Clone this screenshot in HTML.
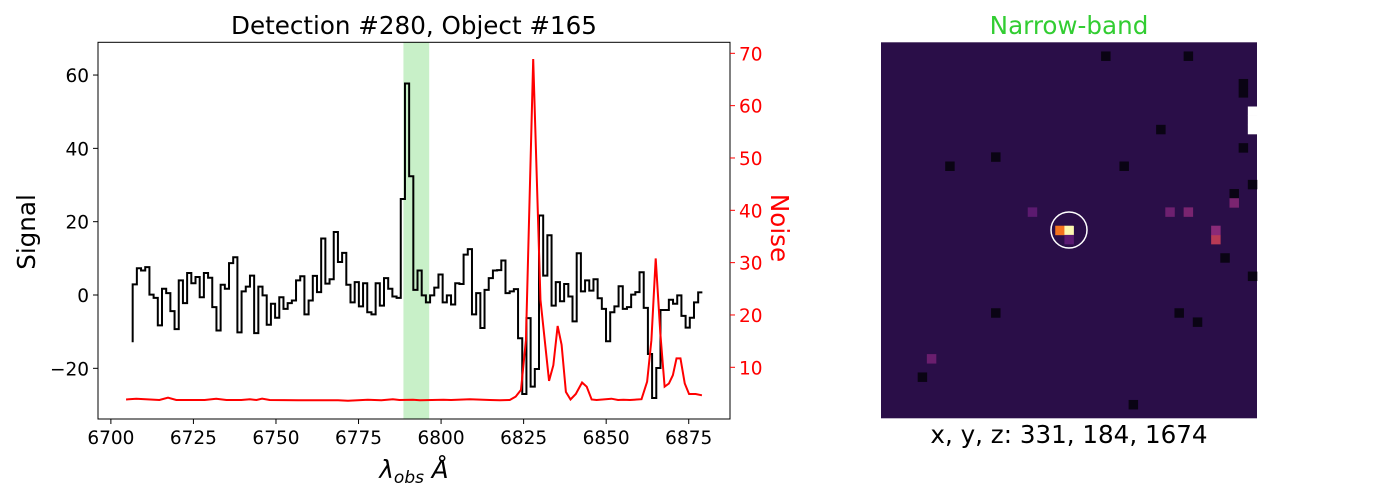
<!DOCTYPE html>
<html><head><meta charset="utf-8"><style>
html,body{margin:0;padding:0;background:#fff;}
svg{display:block;font-family:"DejaVu Sans","Liberation Sans",sans-serif;}
</style></head><body>
<svg id="chart" width="1400" height="500" viewBox="0 0 1400 500"></svg>
<script>
const signalStart = 6706.6;
const signalStep = 1.2686;
const signalValues = [-12.9,2.9,7.3,6.7,7.6,0.1,-0.8,-8.3,1.7,0.5,-4.4,-9.3,4.0,-2.2,6.0,3.2,4.9,-0.6,6.0,4.7,-3.3,-9.7,2.8,1.7,8.7,10.3,-10.2,1.0,2.3,5.3,-10.4,2.3,-0.1,-8.1,-2.4,-6.2,-0.6,-3.8,-2.2,-1.5,4.0,5.1,-5.3,-1.5,5.2,0.8,15.4,3.1,4.3,17.2,9.0,11.5,2.8,-2.0,3.5,-3.1,3.2,-4.7,-5.3,3.2,-2.9,4.6,1.7,-0.4,-0.8,26.2,57.7,32.4,
1.4,6.7,-0.1,-2.0,-0.1,2.0,5.6,-2.0,-0.1,-2.6,3.2,3.0,11.0,12.5,-5.3,0.5,-9.0,1.4,4.6,6.7,6.8,9.4,0.5,1.0,1.6,-11.8,-27.0,-6.3,-25.0,-20.2,21.7,5.3,16.3,-2.9,3.5,-1.7,3.0,-0.4,-7.2,11.4,1.0,4.0,1.2,4.3,-0.9,-3.8,-12.6,-4.7,-3.1,2.4,-3.8,-3.3,0.1,0.8,6.2,-3.5,-16.1,-28.1,-19.9,-4.1,-4.1,-1.3,-2.4,-0.1,-5.7,-8.9,-6.2,-2.0,0.7];
const noiseWave = [6704.6,6707.7,6714.7,6717.3,6719.8,6728.4,6731.9,6735.0,6739.5,6742.1,6744.1,6745.8,6748.1,6756.7,6768.8,6771.8,6777.8,6781.9,6785.4,6787.4,6791.5,6793.6,6800.7,6803.0,6808.7,6814.8,6817.8,6820.8,6822.6,6824.2,6825.7,6827.9,6830.1,6832.7,6834.0,6835.3,6836.5,6837.8,6839.2,6840.8,6842.7,6844.1,6845.6,6847.1,6851.6,6853.6,6855.2,6857.2,6860.7,6862.4,6863.7,6865.0,6866.4,6867.7,6869.0,6870.2,6871.3,6872.5,6873.8,6875.1,6877.1,6879.0];
const noiseValues = [3.85,4.0,3.75,4.2,3.75,3.75,4.0,3.75,3.75,3.9,3.75,4.0,3.75,3.7,3.7,3.6,3.8,3.7,3.9,3.75,3.8,3.7,3.8,3.75,3.9,3.75,3.7,3.75,4.4,5.7,15.2,68.9,22.9,7.4,10.4,17.9,14.3,5.3,3.85,4.9,7.1,6.3,3.85,3.75,4.0,3.75,3.8,3.75,3.9,7.25,15.2,30.8,16.5,6.3,6.9,8.5,11.7,11.7,6.9,4.9,4.9,4.65];
const bandRange = [6788.6, 6796.4];
const xTicks = [6700,6725,6750,6775,6800,6825,6850,6875];
const yTicks = [-20,0,20,40,60];
const noiseTicks = [10,20,30,40,50,60,70];
const imgCols = [19,20,36,40,40,40,20,21,36,39,39,38,40,33,31,34,7,12,24,26,5,39,30,37,32,16,4,12,33,27,40,38];
const imgRows = [20,20,21,7,8,9,21,19,20,4,5,16,15,18,18,30,13,12,1,13,34,11,9,23,29,18,36,29,1,39,25,17];
const imgColors = ['#f4731e','#fcf8b0','#b83a55','#ffffff','#ffffff','#ffffff','#5a1a72','#2a0c46','#8a2a78','#0a0414','#0a0414','#0a0414','#0a0414','#7a2470','#6e2070','#0a0414','#0a0414','#0a0414','#0a0414','#0a0414','#6a1e6e','#0a0414','#0a0414','#0a0414','#0a0414','#5c1a70','#0a0414','#0a0414','#0a0414','#0a0414','#0a0414','#7a2470'];

const NS='http://www.w3.org/2000/svg';
const svg=document.getElementById('chart');
function mk(tag,attrs,parent){const e=document.createElementNS(NS,tag);for(const k in attrs)e.setAttribute(k,attrs[k]);(parent||svg).appendChild(e);return e;}
const L=98,R=730,T=42.3,B=419;
const xMin=6696.1,xMax=6887.5;
const X=w=>L+(w-xMin)/(xMax-xMin)*(R-L);
const Y=v=>295-v*3.666;
const YN=v=>367.3-(v-10)*5.233;

const band=mk('rect',{x:X(bandRange[0]),y:T,width:X(bandRange[1])-X(bandRange[0]),height:B-T,fill:'#c8f0c8'});



let d='';
signalValues.forEach((v,i)=>{const x=X(signalStart+i*signalStep);
  if(i===0)d+='M'+x+','+Y(v);else{const xp=X(signalStart+(i-1)*signalStep);d+=' L'+xp+','+Y(v)+' L'+x+','+Y(v);}});
const sig=mk('path',{d:d,fill:'none',stroke:'#000','stroke-width':2});



const nd=noiseWave.map((w,i)=>(i?'L':'M')+X(w)+','+YN(noiseValues[i])).join(' ');
const noise=mk('path',{d:nd,fill:'none',stroke:'#ff0000','stroke-width':2});



const frame=mk('rect',{x:L,y:T,width:R-L,height:B-T,fill:'none',stroke:'#000','stroke-width':1});



xTicks.forEach(t=>{mk('line',{x1:X(t),x2:X(t),y1:B,y2:B+5,stroke:'#000'});
  const tx=mk('text',{x:X(t),y:B+25,'text-anchor':'middle','font-size':18.5,fill:'#000'});tx.textContent=t;
  
  });
yTicks.forEach(t=>{mk('line',{x1:L-5,x2:L,y1:Y(t),y2:Y(t),stroke:'#000'});
  const tx=mk('text',{x:L-9,y:Y(t)+7,'text-anchor':'end','font-size':18.5,fill:'#000'});tx.textContent=t<0?'\u2212'+(-t):t;
  
  });
noiseTicks.forEach(t=>{mk('line',{x1:R,x2:R+5,y1:YN(t),y2:YN(t),stroke:'#ff0000'});
  const tx=mk('text',{x:R+9,y:YN(t)+7,'text-anchor':'start','font-size':18.5,fill:'#ff0000'});tx.textContent=t;
  
  });

const IL=881,IT=42.3,IS=376,N=41,cs=IS/N;
const bg=mk('rect',{x:IL,y:IT,width:IS,height:IS,fill:'#2a0e48'});


imgCols.forEach((c,i)=>{const r=mk('rect',{x:IL+c*cs,y:IT+imgRows[i]*cs,width:cs+0.3,height:cs+0.3,fill:imgColors[i]});
  
  });
const circ=mk('circle',{cx:1069,cy:230,r:18,fill:'none',stroke:'#fff','stroke-width':1.5});


</script>
<div style="position:absolute;left:0;top:0;width:1400px;height:500px;pointer-events:none;">
<svg width="1400" height="500" style="position:absolute;left:0;top:0">
<text x="414" y="34" text-anchor="middle" font-size="24.6" fill="#000">Detection #280, Object #165</text>
<text x="1069" y="34" text-anchor="middle" font-size="24.6" fill="#32cd32">Narrow-band</text>
<text x="1069" y="443" text-anchor="middle" font-size="24.6" fill="#000">x, y, z: 331, 184, 1674</text>
<text x="414" y="478" text-anchor="middle" font-size="24.6" font-style="italic" fill="#000">λ<tspan font-size="17" dy="5">obs</tspan><tspan dy="-5"> Å</tspan></text>
<text transform="translate(35,232) rotate(-90)" text-anchor="middle" font-size="24.6" fill="#000">Signal</text>
<text transform="translate(771,228) rotate(90)" text-anchor="middle" font-size="24.6" fill="#ff0000">Noise</text>
</svg></div>
</body></html>
